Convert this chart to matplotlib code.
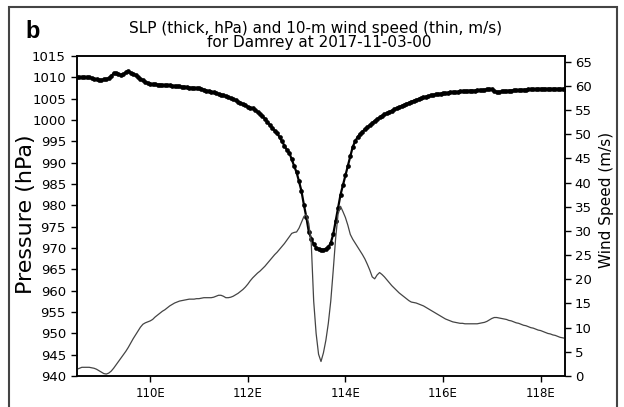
import numpy as np
import matplotlib
matplotlib.use("Agg")
import matplotlib.pyplot as plt
from matplotlib.patches import Rectangle

# SLP (hPa) along the cross-section, 0.05 deg steps from 108.5E to 118.5E
slp = [
    1010.0, 1010.0, 1010.0, 1010.1, 1010.0, 1010.0, 1009.8, 1009.6, 1009.5, 1009.4,
    1009.4, 1009.5, 1009.6, 1009.8, 1010.3, 1010.9, 1011.0, 1010.7, 1010.6, 1010.7,
    1011.2, 1011.4, 1011.1, 1010.8, 1010.5, 1010.1, 1009.7, 1009.3, 1008.9, 1008.7,
    1008.5, 1008.4, 1008.4, 1008.3, 1008.3, 1008.2, 1008.2, 1008.1, 1008.1, 1008.0,
    1008.0, 1007.9, 1007.9, 1007.8, 1007.8, 1007.7, 1007.6, 1007.6, 1007.5, 1007.5,
    1007.4, 1007.3, 1007.1, 1006.9, 1006.8, 1006.6, 1006.5, 1006.3, 1006.1, 1005.9,
    1005.8, 1005.6, 1005.4, 1005.1, 1004.9, 1004.6, 1004.3, 1004.0, 1003.7, 1003.4,
    1003.1, 1002.9, 1002.7, 1002.3, 1001.9, 1001.4, 1000.9, 1000.3, 999.6, 998.8,
    998.2, 997.5, 996.9, 996.0, 995.0, 994.0, 993.0, 992.3, 990.8, 989.2,
    987.7, 985.6, 983.3, 980.1, 977.2, 973.8, 972.2, 970.9, 970.1, 969.8,
    969.6, 969.6, 969.8, 970.2, 971.2, 973.2, 976.3, 979.3, 982.5, 984.8,
    987.0, 989.2, 991.5, 993.7, 995.0, 996.0, 996.7, 997.3, 997.8, 998.3,
    998.8, 999.3, 999.8, 1000.2, 1000.6, 1001.0, 1001.3, 1001.6, 1001.9, 1002.2,
    1002.5, 1002.8, 1003.0, 1003.3, 1003.5, 1003.8, 1004.0, 1004.3, 1004.5, 1004.7,
    1004.9, 1005.1, 1005.3, 1005.5, 1005.6, 1005.8, 1005.9, 1006.0, 1006.1, 1006.2,
    1006.3, 1006.3, 1006.4, 1006.5, 1006.5, 1006.6, 1006.6, 1006.7, 1006.7, 1006.8,
    1006.8, 1006.9, 1006.9, 1006.9, 1007.0, 1007.0, 1007.0, 1007.1, 1007.2, 1007.3,
    1007.2, 1006.9, 1006.6, 1006.6, 1006.7, 1006.8, 1006.8, 1006.9, 1006.9, 1007.0,
    1007.0, 1007.0, 1007.1, 1007.1, 1007.1, 1007.2, 1007.2, 1007.2, 1007.2, 1007.3,
    1007.3, 1007.3, 1007.3, 1007.3, 1007.3, 1007.3, 1007.3, 1007.3, 1007.3, 1007.3,
    1007.3,
]

# 10-m wind speed (m/s), same points
wspd = [
    1.4, 1.6, 1.8, 1.8, 1.8, 1.8, 1.7, 1.6, 1.4, 1.1,
    0.8, 0.5, 0.4, 0.6, 1.0, 1.6, 2.3, 3.0, 3.7, 4.4,
    5.1, 5.9, 6.8, 7.7, 8.5, 9.3, 10.1, 10.7, 11.0, 11.2,
    11.4, 11.7, 12.2, 12.6, 13.0, 13.4, 13.7, 14.1, 14.5, 14.8,
    15.1, 15.3, 15.5, 15.6, 15.7, 15.8, 15.9, 15.9, 15.9, 16.0,
    16.0, 16.1, 16.2, 16.2, 16.2, 16.2, 16.3, 16.5, 16.7, 16.7,
    16.5, 16.2, 16.2, 16.3, 16.5, 16.8, 17.1, 17.5, 17.9, 18.4,
    19.0, 19.7, 20.3, 20.8, 21.3, 21.7, 22.2, 22.7, 23.3, 23.9,
    24.5, 25.1, 25.6, 26.2, 26.8, 27.4, 28.1, 28.8, 29.5, 29.7,
    29.8, 30.6, 31.8, 33.0, 33.4, 31.5, 27.5, 15.5, 8.8, 4.5,
    3.0, 4.8, 7.4, 10.9, 15.5, 21.8, 28.5, 33.5, 35.1, 34.0,
    32.8, 31.2, 29.3, 28.3, 27.5, 26.7, 25.9, 25.1, 24.2, 23.1,
    21.9, 20.5, 20.1, 20.9, 21.4, 21.0, 20.5, 19.9, 19.3, 18.7,
    18.2, 17.7, 17.2, 16.8, 16.4, 16.0, 15.6, 15.3, 15.2, 15.1,
    14.9, 14.7, 14.5, 14.2, 13.9, 13.6, 13.3, 13.0, 12.7, 12.4,
    12.1, 11.8, 11.6, 11.4, 11.2, 11.1, 11.0, 10.9, 10.9, 10.8,
    10.8, 10.8, 10.8, 10.8, 10.8, 10.9, 11.0, 11.1, 11.3, 11.6,
    11.9, 12.1, 12.1, 12.0, 11.9, 11.8, 11.7, 11.5, 11.4, 11.2,
    11.0, 10.9, 10.7, 10.5, 10.4, 10.2, 10.0, 9.9, 9.7, 9.5,
    9.4, 9.2, 9.0, 8.8, 8.7, 8.5, 8.4, 8.2, 8.0, 7.9,
    7.8,
]

lon = np.linspace(108.5, 118.5, len(slp))
xticks = [110, 112, 114, 116, 118]
xticklabels = ["110E", "112E", "114E", "116E", "118E"]
pticks = list(range(940, 1016, 5))
wticks = list(range(0, 66, 5))

plt.rcParams["font.family"] = "DejaVu Sans"

fig = plt.figure(figsize=(6.24, 4.07), dpi=100)
ax = fig.add_axes([77 / 624, 31 / 407, 488 / 624, 320 / 407])
ax2 = ax.twinx()

# thick SLP: line + a dot at every grid point (dots merge where the curve is flat)
ax.plot(lon, slp, color="black", lw=1.6, marker="o", ms=3.4, mew=0, zorder=3)
ax2.plot(lon, wspd, color="#444444", lw=0.9, zorder=2)

ax.set_xlim(108.5, 118.5)
ax.set_ylim(940, 1015)
ax2.set_ylim(0, 66.2)
ax.set_xticks(xticks)
ax.set_xticklabels(xticklabels)
ax.set_yticks(pticks)
ax2.set_yticks(wticks)

ax.tick_params(axis="y", direction="out", length=4, width=1, pad=4, labelsize=9.5)
ax.tick_params(axis="x", direction="out", length=4, width=1, pad=4, labelsize=8.5)
ax2.tick_params(axis="y", direction="out", length=4, width=1, pad=3, labelsize=9.5)
for a in (ax, ax2):
    for s in a.spines.values():
        s.set_linewidth(1.1)

fig.text(26 / 624, 1 - 214.5 / 407, "Pressure (hPa)", rotation=90,
         ha="center", va="center", fontsize=16)
fig.text(606 / 624, 1 - 200 / 407, "Wind Speed (m/s)", rotation=90,
         ha="center", va="center", fontsize=11)

fig.text(0.505, 1 - 28 / 407, "SLP (thick, hPa) and 10-m wind speed (thin, m/s)",
         ha="center", va="center", fontsize=11)
fig.text(0.512, 1 - 42.5 / 407, "for Damrey at 2017-11-03-00",
         ha="center", va="center", fontsize=11)
fig.text(25 / 624, 1 - 38 / 407, "b", ha="left", va="baseline",
         fontsize=17, fontweight="bold", family="Liberation Sans")

fig.patches.append(Rectangle((9 / 624, -0.05), 608 / 624, 1 - 7 / 407 + 0.05,
                             transform=fig.transFigure, fill=False,
                             edgecolor="#444444", lw=1.5))

fig.savefig("out.png", dpi=100)
